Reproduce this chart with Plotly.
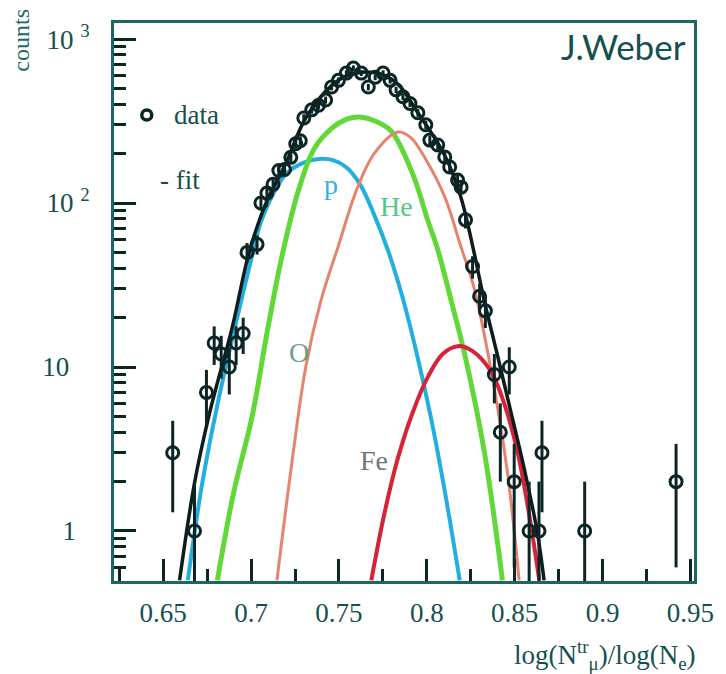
import plotly.graph_objects as go

# ---- data points ----
data_x = [0.6554, 0.6678, 0.6746, 0.6790, 0.6830, 0.6876, 0.6915, 0.6955, 0.6977, 0.7034,
          0.7056, 0.7090, 0.7125, 0.7158, 0.7190, 0.7226, 0.7254, 0.7280, 0.7300, 0.7345,
          0.7384, 0.7424, 0.7458, 0.7497, 0.7542, 0.7582, 0.7627, 0.7667, 0.7706, 0.7751,
          0.7791, 0.7825, 0.7864, 0.7904, 0.7949, 0.7994, 0.8017, 0.8062, 0.8102, 0.8130,
          0.8175, 0.8195, 0.8220, 0.8260, 0.8300, 0.8333, 0.8384, 0.8418, 0.8469, 0.8497,
          0.8582, 0.8638, 0.8655, 0.8898, 0.9418]
data_y = [3, 1, 7, 14, 12, 10, 14, 16, 50, 56,
          100, 115, 130, 158, 160, 190, 230, 240, 330, 370,
          395, 425, 510, 560, 620, 665, 620, 510, 585, 620,
          560, 490, 445, 405, 355, 300, 242, 226, 191, 166,
          138, 125, 79, 41, 27, 22, 9, 4, 10, 2,
          1, 1, 3, 1, 2]
err_hi = [1.7, 1.0, 2.6, 3.7, 3.5, 3.2, 3.7, 4.0, 7, 7.5,
          10, 11, 11, 12, 12, 14, 15, 15, 18, 19,
          20, 21, 23, 24, 25, 26, 25, 23, 24, 25,
          24, 22, 21, 20, 19, 17, 16, 15, 14, 13,
          12, 11, 9, 6.4, 5.2, 4.7, 3.0, 2.0, 3.2, 1.4,
          1.0, 1.0, 1.7, 1.0, 1.4]
err_lo = [1.7, 0.9, 2.6, 3.7, 3.5, 3.2, 3.7, 4.0, 7, 7.5,
          10, 11, 11, 12, 12, 14, 15, 15, 18, 19,
          20, 21, 23, 24, 25, 26, 25, 23, 24, 25,
          24, 22, 21, 20, 19, 17, 16, 15, 14, 13,
          12, 11, 9, 6.4, 5.2, 4.7, 3.0, 2.0, 3.2, 1.4,
          0.9, 0.9, 1.7, 0.9, 1.4]

# ---- fit curves ----
fit_x = [0.6593, 0.6678, 0.6763, 0.6893, 0.6989, 0.7085, 0.7198, 0.7311, 0.7458, 0.7550,
         0.7650, 0.7740, 0.7836, 0.7950, 0.8102, 0.8192, 0.8260, 0.8328, 0.8400, 0.8475,
         0.8554, 0.8627, 0.8667]
fit_y = [0.5, 1.96, 5.2, 17.5, 50, 100, 175, 330, 520, 600,
         630, 610, 530, 354, 195, 110, 55, 25, 12, 5.5,
         2.4, 1.0, 0.5]

p_x = [0.664, 0.672, 0.681, 0.690, 0.700, 0.7062, 0.7198, 0.731, 0.740, 0.747,
       0.754, 0.762, 0.770, 0.778, 0.786, 0.794, 0.802, 0.810, 0.8187]
p_y = [0.5, 1.9, 6.0, 16, 45, 80, 150, 178, 186, 182,
       166, 130, 85, 51, 27, 12.4, 5.1, 1.8, 0.5]

he_x = [0.6808, 0.690, 0.7006, 0.709, 0.7175, 0.727, 0.736, 0.7458, 0.7545, 0.7627,
        0.771, 0.7797, 0.792, 0.8006, 0.8062, 0.814, 0.8215, 0.8328, 0.843]
he_y = [0.5, 1.7, 5.0, 16, 47, 120, 215, 285, 325, 334,
        315, 275, 150, 78, 52, 25, 12, 3.0, 0.5]

o_x = [0.7147, 0.7232, 0.7311, 0.740, 0.7497, 0.760, 0.770, 0.7836, 0.791, 0.800,
       0.8102, 0.8192, 0.827, 0.8362, 0.8458, 0.8525]
o_y = [0.5, 2.6, 10, 26, 55, 120, 200, 271, 250, 180,
       109, 55, 30, 10, 2.3, 0.5]

fe_x = [0.7684, 0.776, 0.7836, 0.792, 0.8006, 0.809, 0.8175, 0.826, 0.8362, 0.844,
        0.8514, 0.858, 0.864]
fe_y = [0.5, 1.3, 2.8, 5.3, 8.7, 12, 13.4, 12.5, 9.5, 6.0,
        3.1, 1.3, 0.5]

x_ticks = [0.65, 0.7, 0.75, 0.8, 0.85, 0.9, 0.95]
x_ticktext = ["0.65", "0.7", "0.75", "0.8", "0.85", "0.9", "0.95"]
x_minor = [0.625, 0.675, 0.725, 0.775, 0.825, 0.875, 0.925]
y_ticks = [1, 10, 100, 1000]
NB = "\u00a0"
y_ticktext = ["1" + NB * 2, "10" + NB * 3, "10" + NB + "<sup>2</sup>", "10" + NB + "<sup>3</sup>"]

INK = "#0c2626"
TEAL = "#14504e"
SERIF = "Liberation Serif"

fig = go.Figure()

def curve(x, y, color, width):
    fig.add_trace(go.Scatter(x=x, y=y, mode="lines",
                             line=dict(color=color, width=width, shape="spline", smoothing=1.0),
                             hoverinfo="skip", showlegend=False))

curve(p_x, p_y, "#22aee0", 4)
curve(he_x, he_y, "#62d838", 5)
curve(o_x, o_y, "#e5836f", 3)
curve(fe_x, fe_y, "#d82238", 4)
curve(fit_x, fit_y, "#0e1c1c", 3.5)

fig.add_trace(go.Scatter(
    x=data_x, y=data_y, mode="markers",
    marker=dict(symbol="circle-open", size=12, color=INK, line=dict(width=3, color=INK)),
    error_y=dict(type="data", array=err_hi, arrayminus=err_lo, symmetric=False,
                 thickness=3, width=0, color=INK),
    showlegend=False))

minor_y = [m * 10 ** e for e in range(-1, 4) for m in range(2, 10)]

fig.update_layout(
    width=726, height=674,
    margin=dict(l=114, r=28, t=23, b=93),
    paper_bgcolor="white", plot_bgcolor="white",
    showlegend=False,
    xaxis=dict(range=[0.622, 0.952], showgrid=False, zeroline=False,
               tickmode="array", tickvals=x_ticks, ticktext=x_ticktext,
               ticks="inside", ticklen=22, tickwidth=3, tickcolor=INK,
               minor=dict(tickmode="array", tickvals=x_minor, ticks="inside",
                          ticklen=12, tickwidth=3, tickcolor=INK, showgrid=False),
               showline=True, linewidth=3, linecolor="#1b6764", mirror=True,
               tickfont=dict(family=SERIF, size=27, color=TEAL),
               ticklabelstandoff=6),
    yaxis=dict(type="log", range=[-0.305, 3.098], showgrid=False, zeroline=False,
               tickmode="array", tickvals=y_ticks, ticktext=y_ticktext,
               ticks="inside", ticklen=22, tickwidth=3, tickcolor=INK,
               minor=dict(tickmode="array", tickvals=minor_y, ticks="inside",
                          ticklen=12, tickwidth=3, tickcolor=INK, showgrid=False),
               showline=True, linewidth=3, linecolor="#1b6764", mirror=True,
               tickfont=dict(family=SERIF, size=27, color=TEAL),
               ticklabelstandoff=16),
)

def px2paper(px, py):
    return (px - 114) / 584.0, (581 - py) / 558.0

def label(text, px, py, color, size=24, xanchor="center", family=SERIF, angle=0):
    x, y = px2paper(px, py)
    fig.add_annotation(text=text, x=x, y=y, xref="paper", yref="paper",
                       xanchor=xanchor, yanchor="middle", showarrow=False,
                       textangle=angle, font=dict(family=family, size=size, color=color))

label("J.Weber", 692, 46, TEAL, size=35, xanchor="right", family="Lato")
label("data", 172, 115, TEAL, size=27, xanchor="left")
label("- fit", 158, 180, TEAL, size=27, xanchor="left")
label("p", 332, 185, "#2ab2e6", size=28)
label("He", 398, 206, "#52c884", size=28)
label("O", 300, 353, "#6c9e8e", size=28)
label("Fe", 376, 460, "#6e7676", size=28)
label("counts", 20, 40, "#1b6a68", size=24, angle=-90)
label("log(N<sup>tr</sup><sub>μ</sub>)/log(N<sub>e</sub>)", 702, 655, TEAL, size=27, xanchor="right")

cx, cy = px2paper(147, 115)
fig.add_shape(type="circle", xref="paper", yref="paper", xsizemode="pixel", ysizemode="pixel",
              xanchor=cx, yanchor=cy, x0=-5, x1=5, y0=-5, y1=5,
              line=dict(color=INK, width=3.5))

fig.write_html("out.html")
